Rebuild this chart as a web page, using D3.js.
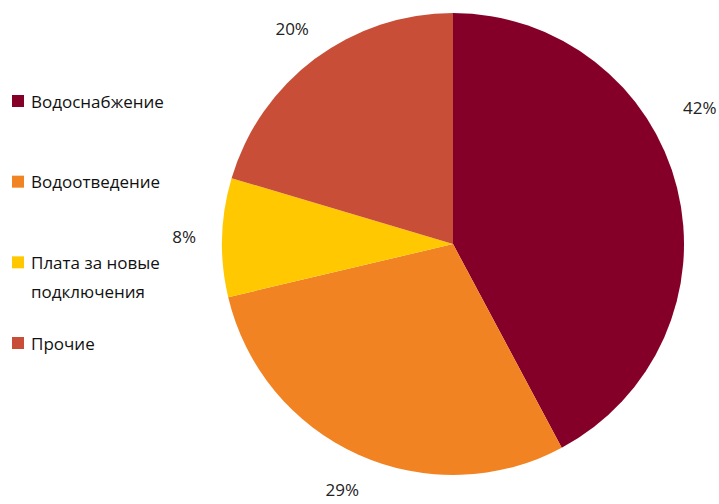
<!DOCTYPE html>
<html>
<head>
<meta charset="utf-8">
<script src="https://cdn.jsdelivr.net/npm/d3@7"></script>
<style>
  body { margin: 0; background: #fff; }
  svg { display: block; font-family: "Open Sans", "Noto Sans", sans-serif; }
</style>
</head>
<body>
<svg id="chart" width="719" height="504"></svg>
<script>
// slice data, clockwise from 12 o'clock
const categories = ["Водоснабжение", "Водоотведение", "Плата за новые подключения", "Прочие"];
const legendLines = [["Водоснабжение"], ["Водоотведение"], ["Плата за новые", "подключения"], ["Прочие"]];
const shares = [42.2, 29.1, 8.3, 20.4];
const shareLabels = ["42%", "29%", "8%", "20%"];
const colors = ["#850029", "#F28322", "#FFC800", "#C94E37"];

const W = 719, H = 504;
const cx = 453, cy = 244, radius = 231;

var svg = d3.select("#chart");

var pie = d3.pie().sort(null).value(d => d)(shares);
var arc = d3.arc().innerRadius(0).outerRadius(radius);

var g = svg.append("g").attr("transform", "translate(" + cx + "," + cy + ")");

g.selectAll("path.slice")
  .data(pie)
  .enter()
  .append("path")
  .attr("class", "slice")
  .attr("d", arc)
  .attr("fill", (d, i) => colors[i]);

// percent labels outside, pushed back along the rim if they would leave the page
const labelR = radius + 38;
pie.forEach(function (d, i) {
  let ang = (d.startAngle + d.endAngle) / 2;
  let t = g.append("text")
    .attr("text-anchor", "middle")
    .attr("dominant-baseline", "central")
    .attr("font-size", 17)
    .attr("fill", "#222")
    .text(shareLabels[i]);
  let half = t.node().getComputedTextLength() / 2;
  let r = labelR;
  while (cx + Math.sin(ang) * r + half > W - 2 && ang > 0) {
    ang -= 0.01;
    r += 0.5;
  }
  t.attr("x", Math.sin(ang) * r).attr("y", -Math.cos(ang) * r);
});

// legend
var legend = svg.append("g");
var ly = d3.scaleLinear().domain([0, 3]).range([101, 343]);

legendLines.forEach(function (lines, i) {
  let y = ly(i);
  legend.append("rect")
    .attr("x", 12).attr("y", y - 6)
    .attr("width", 12).attr("height", 12)
    .attr("fill", colors[i]);
  lines.forEach(function (line, k) {
    legend.append("text")
      .attr("x", 31).attr("y", y + k * 29)
      .attr("dominant-baseline", "central")
      .attr("font-size", 17)
      .attr("fill", "#111")
      .text(line);
  });
});
</script>
</body>
</html>
